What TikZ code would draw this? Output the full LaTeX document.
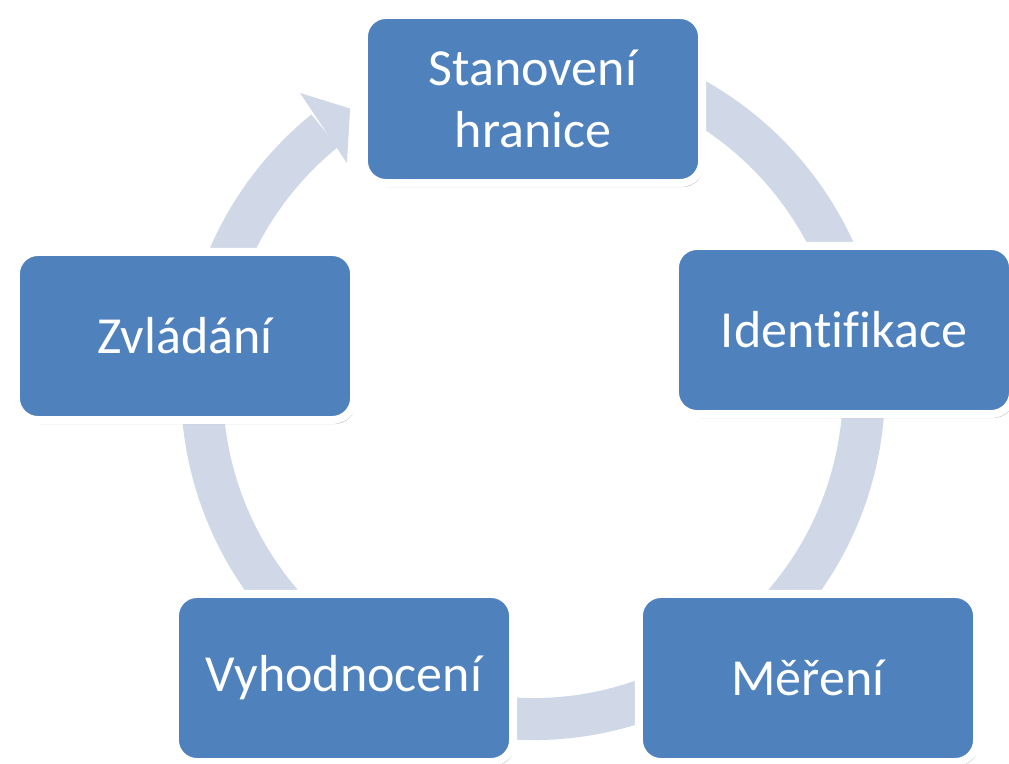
\documentclass[tikz,border=0pt]{standalone}
\usepackage{fontspec}
\setmainfont{Carlito}[Ligatures=NoCommon]
\usetikzlibrary{shadows}
\definecolor{boxblue}{HTML}{4F81BD}
\definecolor{ringblue}{HTML}{D0D8E8}
\tikzset{
  stepbox/.style={draw=white, line width=0.08cm, fill=boxblue, rounded corners=0.22cm,
    minimum width=3.38cm, minimum height=1.68cm, align=center, text=white,
    font=\fontsize{14.8}{17.8}\selectfont,
    drop shadow={shadow xshift=0.02cm, shadow yshift=-0.04cm, opacity=0.3, fill=black}},
}
\begin{document}
\begin{tikzpicture}[x=0.01cm, y=0.01cm]
    \useasboundingbox (0,0) rectangle (1009,-764);
    % circular arrow behind the boxes
    \begin{scope}[shift={(533,-388)}]
        \draw[ringblue, line width=0.42cm] (80:331) arc[start angle=80, end angle=-231, radius=331];
        \fill[ringblue] (128.3:376) -- (123.2:334) -- (129.6:292) -- cycle;
    \end{scope}
    % boxes of the cycle
    \def\steps{533/-99/{Stanovení\\hranice}/stanoveni, 844/-330/Identifikace/identifikace,
        808/-678/Měření/mereni, 344/-678/Vyhodnocení/vyhodnoceni, 185/-336/Zvládání/zvladani}
    \foreach \x/\y/\t/\n in \steps {
        \node[stepbox] (\n) at (\x,\y) {\t};
    }
\end{tikzpicture}
\end{document}
